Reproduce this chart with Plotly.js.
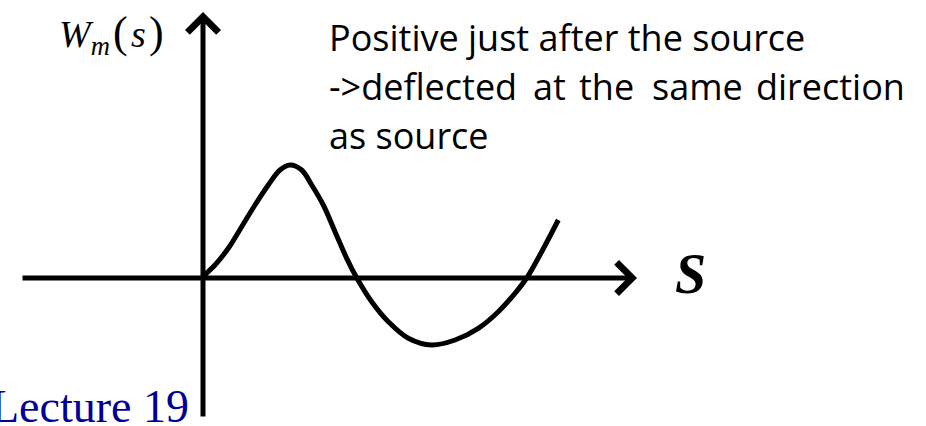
<!DOCTYPE html>
<html>
<head>
<meta charset="utf-8">
<script src="https://cdn.plot.ly/plotly-3.0.1.min.js"></script>
<style>html,body{margin:0;padding:0;background:#fff;}#chart{width:926px;height:426px;}</style>
</head>
<body>
<div id="chart"></div>
<script>
// Curve W_m(s) (arbitrary units)
const sValues = [0, 0.02, 0.12, 0.253, 0.387, 0.52, 0.653, 0.77, 0.87, 0.987, 1.087, 1.203, 1.32, 1.437, 1.537, 1.687, 1.853, 2.053, 2.287, 2.52, 2.753, 2.953, 3.12, 3.237, 3.387, 3.553];
const wValues = [0, 0.03, 0.13, 0.297, 0.513, 0.73, 0.93, 1.08, 1.13, 1.08, 0.93, 0.73, 0.463, 0.197, 0.003, -0.237, -0.437, -0.603, -0.67, -0.62, -0.503, -0.337, -0.153, 0, 0.263, 0.58];

const yLabel = "<i>W</i><sub><i>m</i></sub>\u200A<span style='font-size:44px'>(</span>\u200A<i>s</i>\u200A<span style='font-size:44px'>)</span>";
const xLabel = "<b><i>S</i></b>";
const noteLine1 = "Positive just after the source";
const noteLine2 = ["->deflected", "at", "the", "same", "direction"];
const noteLine3 = "as source";
const footer = "Lecture 19";

const W = 926, H = 426;
const px = x => x / W;
const py = y => 1 - y / H;

const line2X = [327, 531, 577, 650, 754];

const annotations = [
  // vertical axis arrow
  {x: 0, y: 2.66, ax: 0, ay: -1.40, xref: 'x', yref: 'y', axref: 'x', ayref: 'y',
   showarrow: true, arrowhead: 4, arrowwidth: 5, arrowsize: 1.2, arrowcolor: '#000', text: ''},
  // horizontal axis arrow
  {x: 4.34, y: 0, ax: -1.82, ay: 0, xref: 'x', yref: 'y', axref: 'x', ayref: 'y',
   showarrow: true, arrowhead: 4, arrowwidth: 5, arrowsize: 1.2, arrowcolor: '#000', text: ''},
  {x: px(57), y: py(34), xref: 'paper', yref: 'paper', xanchor: 'left', yanchor: 'middle', showarrow: false,
   text: yLabel, font: {family: 'Liberation Serif', size: 38, color: '#000'}},
  {x: px(690), y: py(274), xref: 'paper', yref: 'paper', xanchor: 'center', yanchor: 'middle', showarrow: false,
   text: xLabel, font: {family: 'Liberation Serif', size: 56, color: '#000'}},
  {x: px(327), y: py(37), xref: 'paper', yref: 'paper', xanchor: 'left', yanchor: 'middle', showarrow: false,
   text: noteLine1, font: {family: 'Open Sans', size: 36, color: '#000'}},
  {x: px(327), y: py(135), xref: 'paper', yref: 'paper', xanchor: 'left', yanchor: 'middle', showarrow: false,
   text: noteLine3, font: {family: 'Open Sans', size: 36, color: '#000'}},
  {x: px(-11), y: py(406), xref: 'paper', yref: 'paper', xanchor: 'left', yanchor: 'middle', showarrow: false,
   text: footer, font: {family: 'Liberation Serif', size: 46, color: '#000099'}}
];
noteLine2.forEach((w, i) => {
  annotations.push({x: px(line2X[i]), y: py(87), xref: 'paper', yref: 'paper', xanchor: 'left', yanchor: 'middle',
    showarrow: false, text: w, font: {family: 'Open Sans', size: 36, color: '#000'}});
});

const trace = {
  x: sValues, y: wValues, type: 'scatter', mode: 'lines',
  line: {color: '#000', width: 5, shape: 'spline', smoothing: 1},
  cliponaxis: false, hoverinfo: 'skip'
};

const layout = {
  width: W, height: H,
  margin: {l: 0, r: 0, t: 0, b: 0, pad: 0},
  paper_bgcolor: '#fff', plot_bgcolor: '#fff',
  showlegend: false,
  xaxis: {range: [-2.03, 7.23], visible: false, fixedrange: true},
  yaxis: {range: [-1.48, 2.78], visible: false, fixedrange: true},
  annotations: annotations
};

Plotly.newPlot('chart', [trace], layout, {displayModeBar: false, staticPlot: true});
</script>
</body>
</html>
